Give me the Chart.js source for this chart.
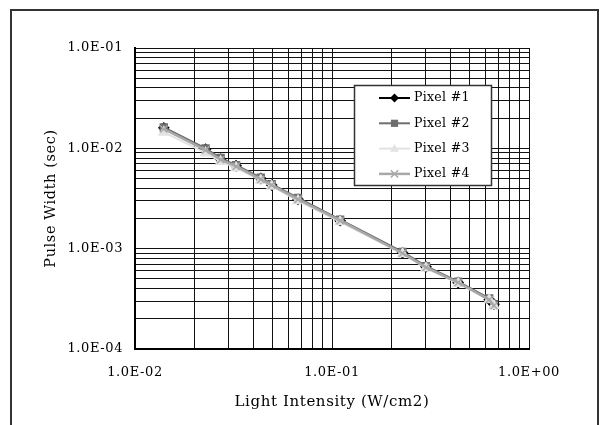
<!DOCTYPE html>
<html lang="en">
<head>
    <meta charset="UTF-8">
    <title>Pulse Width vs Light Intensity</title>
    <script src="https://cdn.jsdelivr.net/npm/chart.js"></script>
    <style>
        body {
            margin: 0;
            background-color: #fff;
        }
        #pulseChart {
            display: block;
        }
    </style>
</head>
<body>
    <canvas id="pulseChart" width="607" height="425"></canvas>

    <script>
        // data
        const intensity = [0.0140, 0.0228, 0.0272, 0.0326, 0.0435, 0.0494, 0.0672, 0.110, 0.228, 0.300, 0.437, 0.628, 0.664];
        const pixel1 = [0.0160, 0.0098, 0.0078, 0.0067, 0.0050, 0.0043, 0.0031, 0.0019, 0.00091, 0.00066, 0.00046, 0.00031, 0.00028];
        const pixel2 = [0.0162, 0.0100, 0.0080, 0.0068, 0.0051, 0.0044, 0.0032, 0.00195, 0.00093, 0.00067, 0.00047, 0.00032, 0.00028];
        const pixel3 = [0.0145, 0.0090, 0.0074, 0.0064, 0.0048, 0.0042, 0.0030, 0.00185, 0.00089, 0.00064, 0.00045, 0.00031, 0.00027];
        const pixel4 = [0.0156, 0.0096, 0.0077, 0.0066, 0.0049, 0.0043, 0.0031, 0.0019, 0.00090, 0.00065, 0.00046, 0.00031, 0.00027];
        const seriesNames = ['Pixel #1', 'Pixel #2', 'Pixel #3', 'Pixel #4'];

        const xTickLabels = ['1.0E-02', '1.0E-01', '1.0E+00'];
        const yTickLabels = ['1.0E-04', '1.0E-03', '1.0E-02', '1.0E-01'];
        const xDecades = [-2, -1, 0];
        const yDecades = [-4, -3, -2, -1];

        const serif = 'DejaVu Serif';

        function toPoints(ys) {
            return intensity.map((x, i) => ({ x: x, y: ys[i] }));
        }

        // grid lines at 1..9 x 10^n, labels only on the decades
        function logTicks(decades) {
            const vals = [];
            for (let d = 0; d < decades.length; d++) {
                const p = Math.pow(10, decades[d]);
                if (d === decades.length - 1) {
                    vals.push(p);
                } else {
                    for (let k = 1; k <= 9; k++) vals.push(k * p);
                }
            }
            return vals.map(v => ({ value: v }));
        }

        function decadeLabel(value, decades, labels) {
            const l = Math.log10(value);
            const r = Math.round(l);
            if (Math.abs(l - r) > 1e-6) return '';
            const i = decades.indexOf(r);
            return i >= 0 ? labels[i] : '';
        }

        const frame = {
            id: 'frame',
            beforeDraw(chart) {
                const c = chart.ctx;
                c.save();
                c.fillStyle = '#fff';
                c.fillRect(0, 0, chart.width, chart.height);
                c.strokeStyle = '#333';
                c.lineWidth = 2;
                c.strokeRect(11, 10, 587, 430);
                c.restore();
                c.letterSpacing = '0.6px';
            }
        };

        function drawMarker(c, style, x, y, r, color) {
            c.fillStyle = color;
            c.strokeStyle = color;
            c.lineWidth = 1.5;
            c.beginPath();
            if (style === 'rectRot') {
                c.moveTo(x, y - r); c.lineTo(x + r, y); c.lineTo(x, y + r); c.lineTo(x - r, y);
                c.closePath(); c.fill();
            } else if (style === 'rect') {
                c.rect(x - r * 0.8, y - r * 0.8, r * 1.6, r * 1.6); c.fill();
            } else if (style === 'triangle') {
                c.moveTo(x, y - r); c.lineTo(x + r, y + r * 0.7); c.lineTo(x - r, y + r * 0.7);
                c.closePath(); c.fill();
            } else {
                c.moveTo(x - r * 0.8, y - r * 0.8); c.lineTo(x + r * 0.8, y + r * 0.8);
                c.moveTo(x + r * 0.8, y - r * 0.8); c.lineTo(x - r * 0.8, y + r * 0.8);
                c.stroke();
            }
        }

        const boxLegend = {
            id: 'boxLegend',
            afterDatasetsDraw(chart) {
                const c = chart.ctx;
                const left = 354, top = 85, w = 137, h = 100;
                c.save();
                c.letterSpacing = '0.3px';
                c.fillStyle = '#fff';
                c.fillRect(left, top, w, h);
                c.strokeStyle = '#333';
                c.lineWidth = 1.5;
                c.strokeRect(left + 0.5, top + 0.5, w, h);
                chart.data.datasets.forEach((ds, i) => {
                    const y = top + 13 + i * 25.3;
                    c.strokeStyle = ds.borderColor;
                    c.lineWidth = ds.borderWidth;
                    c.beginPath();
                    c.moveTo(379, y);
                    c.lineTo(410, y);
                    c.stroke();
                    drawMarker(c, ds.pointStyle, 394.5, y, 4.5, ds.pointBackgroundColor);
                    c.fillStyle = '#000';
                    c.font = '12.5px "' + serif + '"';
                    c.textBaseline = 'middle';
                    c.textAlign = 'left';
                    c.fillText(ds.label, 414, y);
                });
                c.restore();
            }
        };

        const ctx = document.getElementById('pulseChart').getContext('2d');
        const pulseChart = new Chart(ctx, {
            type: 'scatter',
            data: {
                datasets: [{
                    label: seriesNames[0],
                    data: toPoints(pixel1),
                    borderColor: '#000000',
                    backgroundColor: '#000000',
                    pointBackgroundColor: '#000000',
                    pointBorderColor: '#000000',
                    pointStyle: 'rectRot',
                    pointRadius: 4.5,
                    borderWidth: 2,
                    showLine: true,
                    order: 3
                },
                {
                    label: seriesNames[1],
                    data: toPoints(pixel2),
                    borderColor: '#6e6e6e',
                    backgroundColor: '#6e6e6e',
                    pointBackgroundColor: '#6e6e6e',
                    pointBorderColor: '#6e6e6e',
                    pointStyle: 'rect',
                    pointRadius: 4.5,
                    borderWidth: 2,
                    showLine: true,
                    order: 2
                },
                {
                    label: seriesNames[2],
                    data: toPoints(pixel3),
                    borderColor: '#e2e2e2',
                    backgroundColor: '#e2e2e2',
                    pointBackgroundColor: '#e2e2e2',
                    pointBorderColor: '#e2e2e2',
                    pointStyle: 'triangle',
                    pointRadius: 5,
                    borderWidth: 2,
                    showLine: true,
                    order: 1
                },
                {
                    label: seriesNames[3],
                    data: toPoints(pixel4),
                    borderColor: '#a8a8a8',
                    backgroundColor: '#a8a8a8',
                    pointBackgroundColor: '#a8a8a8',
                    pointBorderColor: '#a8a8a8',
                    pointStyle: 'crossRot',
                    pointRadius: 5,
                    pointBorderWidth: 1.5,
                    borderWidth: 2.5,
                    showLine: true,
                    order: 0
                }]
            },
            options: {
                responsive: false,
                animation: false,
                layout: {
                    padding: { left: 0, right: 78, top: 48, bottom: 0 }
                },
                plugins: {
                    legend: { display: false },
                    tooltip: { enabled: false }
                },
                scales: {
                    x: {
                        type: 'logarithmic',
                        min: 0.01,
                        max: 1,
                        afterBuildTicks: scale => { scale.ticks = logTicks(xDecades); },
                        afterFit: scale => { scale.height = 76; },
                        grid: { color: '#111', lineWidth: 1, drawTicks: false },
                        border: { display: true, color: '#000', width: 2 },
                        ticks: {
                            autoSkip: false,
                            maxRotation: 0,
                            padding: 16,
                            color: '#000',
                            font: { family: serif, size: 13 },
                            callback: value => decadeLabel(value, xDecades, xTickLabels)
                        },
                        title: {
                            display: true,
                            text: 'Light Intensity (W/cm2)',
                            color: '#000',
                            font: { family: serif, size: 15 },
                            padding: { top: 0, bottom: 14 }
                        }
                    },
                    y: {
                        type: 'logarithmic',
                        min: 0.0001,
                        max: 0.1,
                        afterBuildTicks: scale => { scale.ticks = logTicks(yDecades); },
                        afterFit: scale => { scale.width = 135; },
                        grid: { color: '#111', lineWidth: 1, drawTicks: false },
                        border: { display: true, color: '#000', width: 2 },
                        ticks: {
                            autoSkip: false,
                            padding: 12,
                            color: '#000',
                            font: { family: serif, size: 13 },
                            callback: value => decadeLabel(value, yDecades, yTickLabels)
                        },
                        title: {
                            display: true,
                            text: 'Pulse Width (sec)',
                            color: '#000',
                            font: { family: serif, size: 14.5 },
                            padding: { top: 43, bottom: 0 }
                        }
                    }
                }
            },
            plugins: [frame, boxLegend]
        });
    </script>
</body>
</html>
